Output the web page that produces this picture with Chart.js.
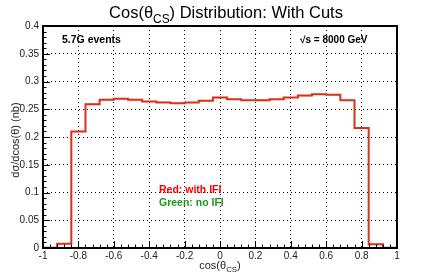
<!DOCTYPE html>
<html>
<head>
<meta charset="utf-8">
<script src="https://cdn.jsdelivr.net/npm/chart.js@4.4.0/dist/chart.umd.min.js"></script>
<style>
  body { margin: 0; background: #fff; }
  #wrap { width: 443px; height: 277px; }
</style>
</head>
<body>
<div id="wrap"><canvas id="cosChart" width="443" height="277"></canvas></div>
<script>
// bordas dos bins (largura 0.08)
const binEdges = [-1, -0.92, -0.84, -0.76, -0.68, -0.6, -0.52, -0.44, -0.36, -0.28, -0.2, -0.12, -0.04,
                  0.04, 0.12, 0.2, 0.28, 0.36, 0.44, 0.52, 0.6, 0.68, 0.76, 0.84, 0.92, 1];

// dσ/dcos(θ) em nb, com IFI (vermelho)
const withIFI = [0.0005, 0.0078, 0.210, 0.259, 0.267, 0.269, 0.267, 0.264, 0.262, 0.261, 0.262, 0.2655, 0.271,
                 0.268, 0.266, 0.266, 0.268, 0.271, 0.275, 0.277, 0.276, 0.266, 0.216, 0.0067, 0.0005];

// sem IFI (verde)
const noIFI = [0.0005, 0.0078, 0.210, 0.260, 0.268, 0.269, 0.268, 0.264, 0.263, 0.261, 0.262, 0.265, 0.270,
               0.268, 0.266, 0.267, 0.268, 0.271, 0.274, 0.277, 0.276, 0.266, 0.217, 0.0067, 0.0005];

const xTicks = [-1, -0.8, -0.6, -0.4, -0.2, 0, 0.2, 0.4, 0.6, 0.8, 1];
const yTicks = [0, 0.05, 0.1, 0.15, 0.2, 0.25, 0.3, 0.35, 0.4];

const FONT = '"Liberation Sans", Arial, Helvetica, sans-serif';

// histograma em degraus: o valor do bin vale até a borda seguinte
function histPoints(values) {
    const pts = [{ x: binEdges[0], y: values[0] }];
    values.forEach((v, i) => pts.push({ x: binEdges[i + 1], y: v }));
    return pts;
}

// texto com subscrito (ex.: θ_CS)
function drawParts(ctx, parts, x, y, size, align, weight) {
    const w = weight || '';
    let total = 0;
    parts.forEach(p => {
        ctx.font = `${w} ${p[1] ? size * 0.72 : size}px ${FONT}`;
        total += ctx.measureText(p[0]).width;
    });
    let cx = align === 'center' ? x - total / 2 : (align === 'right' ? x - total : x);
    ctx.textAlign = 'left';
    ctx.textBaseline = 'alphabetic';
    parts.forEach(p => {
        ctx.font = `${w} ${p[1] ? size * 0.72 : size}px ${FONT}`;
        ctx.fillText(p[0], cx, p[1] ? y + size * 0.28 : y);
        cx += ctx.measureText(p[0]).width;
    });
}

const rootStyle = {
    id: 'rootStyle',
    afterDatasetsDraw(chart) {
        const ctx = chart.ctx;
        const a = chart.chartArea;
        const xs = chart.scales.x, ys = chart.scales.y;
        ctx.save();
        ctx.strokeStyle = '#000';
        ctx.lineWidth = 1;
        ctx.beginPath();
        // ticks do eixo x (maiores a cada 0.2, menores a cada 0.04)
        for (let i = 0; i <= 50; i++) {
            const px = Math.round(xs.getPixelForValue(-1 + i * 0.04)) + 0.5;
            const len = i % 5 === 0 ? 7 : 3.5;
            ctx.moveTo(px, a.bottom);
            ctx.lineTo(px, a.bottom - len);
        }
        // ticks do eixo y (maiores a cada 0.05, menores a cada 0.01)
        for (let i = 0; i <= 40; i++) {
            const py = Math.round(ys.getPixelForValue(i * 0.01)) + 0.5;
            const len = i % 5 === 0 ? 7 : 3.5;
            ctx.moveTo(a.left, py);
            ctx.lineTo(a.left + len, py);
        }
        ctx.stroke();
        // moldura
        ctx.lineWidth = 2;
        ctx.strokeRect(a.left, a.top, a.right - a.left, a.bottom - a.top);

        // textos dentro do gráfico
        ctx.fillStyle = '#000';
        ctx.font = `bold 10.5px ${FONT}`;
        ctx.textBaseline = 'middle';
        ctx.textAlign = 'left';
        ctx.fillText('5.7G events', 62, 40);
        ctx.font = `bold 10px ${FONT}`;
        ctx.fillText('\u221As = 8000 GeV', 300, 40);

        ctx.font = `bold 10.5px ${FONT}`;
        ctx.fillStyle = '#ff0000';
        ctx.fillText('Red: with IFI', 159, 190);
        ctx.fillStyle = '#1e961e';
        ctx.fillText('Green: no IFI', 159, 203);
        ctx.restore();
    },
    afterDraw(chart) {
        const ctx = chart.ctx;
        ctx.save();
        ctx.fillStyle = '#000';
        drawParts(ctx, [['Cos(\u03B8', false], ['CS', true], [') Distribution: With Cuts', false]], 226, 18, 16.5, 'center');
        ctx.fillStyle = '#222';
        drawParts(ctx, [['cos(\u03B8', false], ['CS', true], [')', false]], 220, 269, 11, 'center');
        ctx.translate(15, 140);
        ctx.rotate(-Math.PI / 2);
        drawParts(ctx, [['d\u03C3/dcos(\u03B8) (nb)', false]], 0, 4, 11, 'center');
        ctx.restore();
    }
};

new Chart(document.getElementById('cosChart'), {
    type: 'line',
    data: {
        datasets: [{
            label: 'Green: no IFI',
            data: histPoints(noIFI),
            stepped: 'after',
            borderColor: 'rgba(40, 160, 40, 0.35)',
            borderWidth: 1,
            pointRadius: 0,
            fill: false
        }, {
            label: 'Red: with IFI',
            data: histPoints(withIFI),
            stepped: 'after',
            borderColor: '#ff1a1a',
            borderWidth: 2,
            pointRadius: 0,
            fill: false
        }]
    },
    options: {
        responsive: false,
        devicePixelRatio: 1,
        animation: false,
        layout: { padding: { top: 26, right: 46, left: 0, bottom: 0 } },
        scales: {
            x: {
                type: 'linear',
                min: -1,
                max: 1,
                afterFit: s => { s.height = 29; },
                afterBuildTicks: s => { s.ticks = xTicks.map(v => ({ value: v })); },
                ticks: {
                    padding: 2,
                    color: '#222',
                    font: { family: FONT, size: 10 },
                    maxRotation: 0,
                    callback: v => String(Number(v.toFixed(2)))
                },
                grid: { color: '#000', lineWidth: 1, drawTicks: false },
                border: { display: false, dash: [1, 3] }
            },
            y: {
                min: 0,
                max: 0.4,
                afterFit: s => { s.width = 43; },
                afterBuildTicks: s => { s.ticks = yTicks.map(v => ({ value: v })); },
                ticks: {
                    padding: 4,
                    color: '#222',
                    font: { family: FONT, size: 10 },
                    callback: v => String(Number(v.toFixed(2)))
                },
                grid: { color: '#000', lineWidth: 1, drawTicks: false },
                border: { display: false, dash: [1, 3] }
            }
        },
        plugins: {
            legend: { display: false },
            title: { display: false },
            tooltip: { enabled: false }
        }
    },
    plugins: [rootStyle]
});
</script>
</body>
</html>
